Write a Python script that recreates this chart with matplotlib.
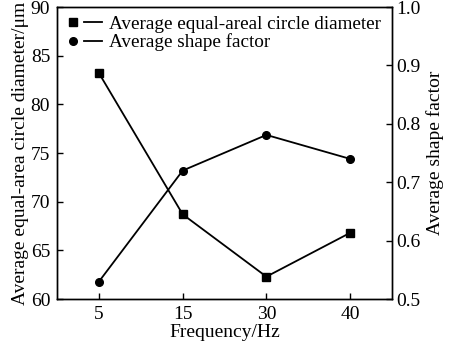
import matplotlib.pyplot as plt
from matplotlib.lines import Line2D
from matplotlib.legend_handler import HandlerTuple

plt.rcParams['font.family'] = ['Liberation Serif', 'DejaVu Serif']

freq = ['5', '15', '30', '40']
diameter = [83.2, 68.7, 62.3, 66.8]
shape_factor = [0.530, 0.720, 0.781, 0.740]

fig = plt.figure(figsize=(4.5, 3.51), dpi=100)
ax = fig.add_axes([0.127, 0.148, 0.744, 0.832])
ax2 = ax.twinx()

x = range(len(freq))
ax.plot(x, diameter, color='black', lw=1.3, marker='s', ms=5.5)
ax2.plot(x, shape_factor, color='black', lw=1.3, marker='o', ms=5.5)

ax.set_xlim(-0.5, 3.5)
ax.set_ylim(60, 90)
ax2.set_ylim(0.5, 1.0)
ax.set_xticks(list(x))
ax.set_xticklabels(freq)
ax.set_yticks(range(60, 91, 5))
ax2.set_yticks([0.5, 0.6, 0.7, 0.8, 0.9, 1.0])
ax2.set_yticklabels(['0.5', '0.6', '0.7', '0.8', '0.9', '1.0'])

fs = 14
ax.tick_params(direction='in', length=4, width=1, labelsize=fs, pad=5)
ax2.tick_params(direction='in', length=4, width=1, labelsize=fs, pad=3)
for a in (ax, ax2):
    for s in a.spines.values():
        s.set_linewidth(1.0)

ax.set_xlabel('Frequency/Hz', fontsize=fs, labelpad=1)
ax.set_ylabel('Average equal-area circle diameter/\u03bcm', fontsize=fs, labelpad=1)
ax2.set_ylabel('Average shape factor', fontsize=fs, labelpad=4)

sq = Line2D([], [], color='black', marker='s', ms=5.5, ls='none')
ci = Line2D([], [], color='black', marker='o', ms=5.5, ls='none')
ln = Line2D([], [], color='black', lw=1.3)
ax.legend([(sq, ln), (ci, ln)],
          ['Average equal-areal circle diameter', 'Average shape factor'],
          handler_map={tuple: HandlerTuple(ndivide=None, pad=0.1)},
          loc='upper left', frameon=False, fontsize=13.8, handlelength=2.0,
          handletextpad=0.35, labelspacing=0.05, borderaxespad=0.0,
          borderpad=0.35, bbox_to_anchor=(0.0, 0.995))

fig.savefig('out.png', dpi=100)
